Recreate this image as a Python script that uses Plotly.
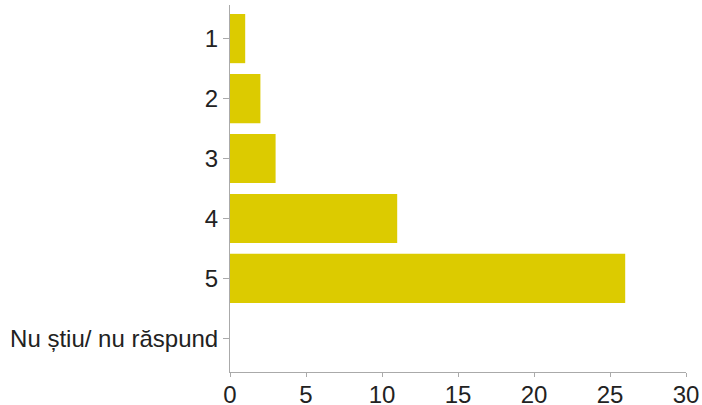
import plotly.graph_objects as go

categories = ["1", "2", "3", "4", "5", "Nu știu/ nu răspund"]
values = [1, 2, 3, 11, 26, 0]
x_ticks = [0, 5, 10, 15, 20, 25, 30]

fig = go.Figure(go.Bar(
    x=values,
    y=categories,
    orientation="h",
    marker=dict(color="#DCCB00", line=dict(width=0)),
))

fig.update_layout(
    width=702, height=405,
    margin=dict(l=230, r=16, t=5, b=33),
    paper_bgcolor="white", plot_bgcolor="white",
    bargap=0.18,
    showlegend=False,
    font=dict(family="Liberation Sans, Arial, sans-serif", size=24, color="#222222"),
)
fig.update_xaxes(
    range=[0, 30], tickvals=x_ticks, showgrid=False, zeroline=False,
    showline=True, linecolor="#aaaaaa", linewidth=1, automargin=False,
    ticks="outside", ticklen=4, tickcolor="#aaaaaa",
    ticklabelstandoff=-3,
)
fig.update_yaxes(
    type="category", categoryorder="array", categoryarray=categories,
    range=[5.56, -0.56], showgrid=False, zeroline=False,
    showline=True, linecolor="#aaaaaa", linewidth=1, automargin=False,
    ticks="outside", ticklen=6, tickcolor="#aaaaaa",
    ticklabelstandoff=0,
)

fig.write_html(
    "out.html",
    config={"displayModeBar": False},
    post_script="document.body.style.margin='0';",
)
